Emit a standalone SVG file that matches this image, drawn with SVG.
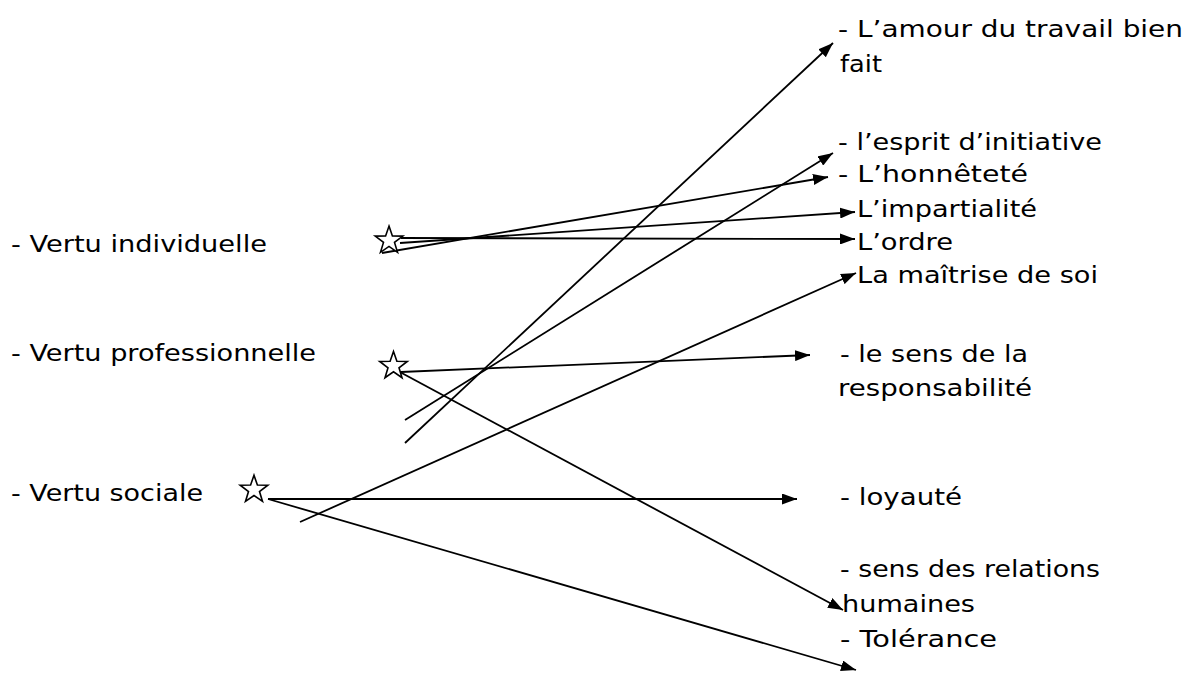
<svg xmlns="http://www.w3.org/2000/svg" width="1195" height="673" viewBox="0 0 1195 673">
<style>
text{font-family:"DejaVu Sans","Liberation Sans",sans-serif;font-size:23px;fill:#000;}
.star{fill:#fff;stroke:#000;stroke-width:1.6;stroke-linejoin:miter;}
.c{stroke:#000;stroke-width:1.8;fill:none;marker-end:url(#ah);}
</style>
<defs>
<marker id="ah" markerUnits="userSpaceOnUse" markerWidth="15" markerHeight="11" refX="15" refY="5.5" orient="auto">
<path d="M0,0 L15,5.5 L0,11 z" fill="#000"/>
</marker>
<polygon id="st" points="0,-14.5 3.4,-4.7 13.8,-4.5 5.5,1.8 8.5,11.7 0,5.8 -8.5,11.7 -5.5,1.8 -13.8,-4.5 -3.4,-4.7"/>
</defs>
<rect width="1195" height="673" fill="#fff"/>
<g id="connectors">
<line class="c" x1="401" y1="238" x2="855" y2="239"/>
<line class="c" x1="400" y1="243" x2="855" y2="212"/>
<line class="c" x1="382" y1="253" x2="828" y2="177"/>
<line class="c" x1="405" y1="420" x2="833" y2="153"/>
<line class="c" x1="405" y1="443" x2="833" y2="43"/>
<line class="c" x1="300" y1="522" x2="856" y2="273"/>
<line class="c" x1="401" y1="372" x2="810" y2="355"/>
<line class="c" x1="398" y1="371" x2="843" y2="610"/>
<line class="c" x1="268" y1="499" x2="797" y2="499"/>
<line class="c" x1="268" y1="499" x2="856" y2="670"/>
</g>
<g id="star1"><use href="#st" class="star" x="389" y="240.6"/></g>
<g id="star2"><use href="#st" class="star" x="393.5" y="366"/></g>
<g id="star3"><use href="#st" class="star" x="254" y="489.7"/></g>
<g id="vertu-individuelle"><text x="11" y="252" textLength="256" lengthAdjust="spacingAndGlyphs">- Vertu individuelle</text></g>
<g id="vertu-professionnelle"><text x="11" y="361" textLength="305" lengthAdjust="spacingAndGlyphs">- Vertu professionnelle</text></g>
<g id="vertu-sociale"><text x="11" y="501" textLength="192" lengthAdjust="spacingAndGlyphs">- Vertu sociale</text></g>
<g id="amour"><text x="838" y="37" textLength="345" lengthAdjust="spacingAndGlyphs">- L’amour du travail bien</text><text x="840" y="72" textLength="42" lengthAdjust="spacingAndGlyphs">fait</text></g>
<g id="esprit"><text x="838" y="150" textLength="264" lengthAdjust="spacingAndGlyphs">- l’esprit d’initiative</text></g>
<g id="honnetete"><text x="838" y="182" textLength="190" lengthAdjust="spacingAndGlyphs">- L’honnêteté</text></g>
<g id="impartialite"><text x="857" y="217" textLength="180" lengthAdjust="spacingAndGlyphs">L’impartialité</text></g>
<g id="ordre"><text x="857" y="250" textLength="96" lengthAdjust="spacingAndGlyphs">L’ordre</text></g>
<g id="maitrise"><text x="857" y="283" textLength="241" lengthAdjust="spacingAndGlyphs">La maîtrise de soi</text></g>
<g id="responsabilite"><text x="840" y="362" textLength="188" lengthAdjust="spacingAndGlyphs">- le sens de la</text><text x="838" y="396" textLength="194" lengthAdjust="spacingAndGlyphs">responsabilité</text></g>
<g id="loyaute"><text x="840" y="505" textLength="122" lengthAdjust="spacingAndGlyphs">- loyauté</text></g>
<g id="relations"><text x="840" y="577" textLength="260" lengthAdjust="spacingAndGlyphs">- sens des relations</text><text x="842" y="612" textLength="133" lengthAdjust="spacingAndGlyphs">humaines</text></g>
<g id="tolerance"><text x="840" y="647" textLength="157" lengthAdjust="spacingAndGlyphs">- Tolérance</text></g>
</svg>
